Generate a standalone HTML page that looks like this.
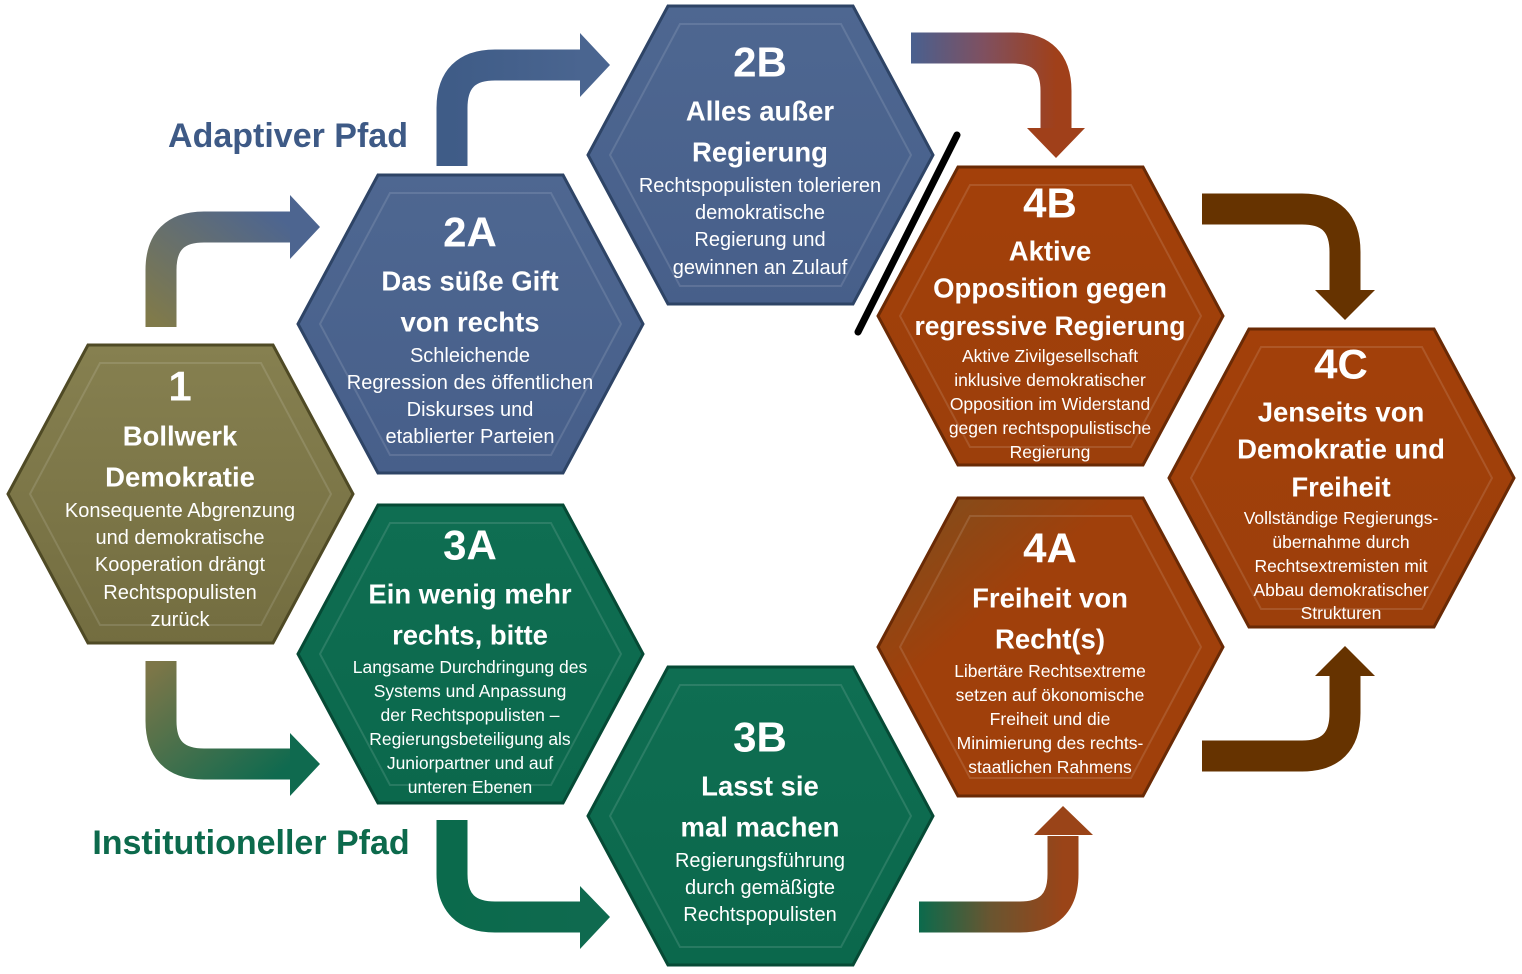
<!DOCTYPE html>
<html><head><meta charset="utf-8"><style>
html,body{margin:0;padding:0;background:#fff;}
svg{display:block;}
text{font-family:"Liberation Sans",sans-serif;fill:#fff;text-anchor:middle;dominant-baseline:central;}
.n{font-size:42px;font-weight:bold;}
.t{font-size:27.5px;font-weight:bold;}
.b{font-size:20px;}
.s{font-size:17.5px;}
</style></head><body>
<svg width="1522" height="974" viewBox="0 0 1522 974" xmlns="http://www.w3.org/2000/svg">
<defs>
<linearGradient id="gOl" x1="0" y1="0" x2="0" y2="1"><stop offset="0" stop-color="#868050"/><stop offset="1" stop-color="#736d40"/></linearGradient>
<linearGradient id="gBl" x1="0" y1="0" x2="0" y2="1"><stop offset="0" stop-color="#4e6791"/><stop offset="1" stop-color="#475f8a"/></linearGradient>
<linearGradient id="gGr" x1="0" y1="0" x2="0" y2="1"><stop offset="0" stop-color="#0f6e52"/><stop offset="1" stop-color="#0b684c"/></linearGradient>
<linearGradient id="gOr" x1="0" y1="0" x2="0" y2="1"><stop offset="0" stop-color="#a3400a"/><stop offset="1" stop-color="#9c3f0b"/></linearGradient>
<linearGradient id="gOrA" x1="0" y1="0" x2="1" y2="1"><stop offset="0" stop-color="#7a5020"/><stop offset="0.35" stop-color="#a0400b"/><stop offset="1" stop-color="#a0400b"/></linearGradient>
<linearGradient id="a1" x1="0" y1="1" x2="1" y2="0"><stop offset="0" stop-color="#807a4a"/><stop offset="1" stop-color="#4d6590"/></linearGradient>
<linearGradient id="a2" x1="0" y1="0" x2="1" y2="0"><stop offset="0" stop-color="#3f5c87"/><stop offset="1" stop-color="#4a6590"/></linearGradient>
<linearGradient id="a3" x1="0" y1="0" x2="1" y2="0"><stop offset="0" stop-color="#49608f"/><stop offset="0.5" stop-color="#7f5060"/><stop offset="1" stop-color="#a0401a"/></linearGradient>
<linearGradient id="a4" x1="0" y1="0" x2="1" y2="1"><stop offset="0" stop-color="#7d7648"/><stop offset="1" stop-color="#0f6a4f"/></linearGradient>
<linearGradient id="a5" x1="0" y1="0" x2="1" y2="0"><stop offset="0" stop-color="#0b6a4c"/><stop offset="1" stop-color="#0f6a4f"/></linearGradient>
<linearGradient id="a6" x1="0" y1="0" x2="1" y2="0"><stop offset="0" stop-color="#0b6a4c"/><stop offset="0.5" stop-color="#6a5530"/><stop offset="1" stop-color="#9a4418"/></linearGradient>
</defs>

<g fill="none" stroke-width="31" stroke-linejoin="round">
<path d="M161 327 V270 Q161 227 204 227 H292" stroke="url(#a1)"/>
<path d="M452 166 V108 Q452 65 495 65 H582" stroke="url(#a2)"/>
<path d="M911 48 H1013 Q1056 48 1056 91 V130" stroke="url(#a3)"/>
<path d="M1202 209 H1302 Q1345 209 1345 252 V292" stroke="#663300"/>
<path d="M1202 756 H1302 Q1345 756 1345 713 V674" stroke="#663300"/>
<path d="M919 917 H1020 Q1063 917 1063 874 V836" stroke="url(#a6)"/>
<path d="M161 661 V721 Q161 764 204 764 H292" stroke="url(#a4)"/>
<path d="M452 820 V874 Q452 917 495 917 H582" stroke="url(#a5)"/>
</g>
<polygon points="290,195 320,227 290,259" fill="#4d6590"/>
<polygon points="580,33 610,65 580,97" fill="#4a6590"/>
<polygon points="1027,128 1085,128 1056,158" fill="#a0401a"/>
<polygon points="1315,290 1375,290 1345,320" fill="#663300"/>
<polygon points="1315,676 1375,676 1345,646" fill="#663300"/>
<polygon points="1034,835 1093,835 1063,806" fill="#9a4418"/>
<polygon points="290,733 320,764 290,796" fill="#0f6a4f"/>
<polygon points="580,886 610,917 580,949" fill="#0f6a4f"/>

<line x1="957" y1="135" x2="858" y2="332" stroke="#000" stroke-width="7" stroke-linecap="round"/>

<g stroke-width="3">
<polygon points="8,494 88,345 273,345 353,494 273,643 88,643" fill="url(#gOl)" stroke="#4f4a25"/>
<polygon points="298,324 378,175 563,175 643,324 563,473 378,473" fill="url(#gBl)" stroke="#2e4466"/>
<polygon points="588,155 668,6 853,6 933,155 853,304 668,304" fill="url(#gBl)" stroke="#2e4466"/>
<polygon points="298,654 378,505 563,505 643,654 563,803 378,803" fill="url(#gGr)" stroke="#064a35"/>
<polygon points="588,816 668,667 853,667 933,816 853,965 668,965" fill="url(#gGr)" stroke="#064a35"/>
<polygon points="878,316 958,167 1143,167 1223,316 1143,465 958,465" fill="url(#gOr)" stroke="#6a2a05"/>
<polygon points="878,647 958,498 1143,498 1223,647 1143,796 958,796" fill="url(#gOrA)" stroke="#6a2a05"/>
<polygon points="1169,478 1249,329 1434,329 1514,478 1434,627 1249,627" fill="url(#gOr)" stroke="#6a2a05"/>
</g>
<g fill="none" stroke="#fff" stroke-opacity="0.12" stroke-width="2">
<polygon points="30,494 100,363 261,363 331,494 261,625 100,625"/>
<polygon points="320,324 390,193 551,193 621,324 551,455 390,455"/>
<polygon points="610,155 680,24 841,24 911,155 841,286 680,286"/>
<polygon points="320,654 390,523 551,523 621,654 551,785 390,785"/>
<polygon points="610,816 680,685 841,685 911,816 841,947 680,947"/>
<polygon points="900,316 970,185 1131,185 1201,316 1131,447 970,447"/>
<polygon points="900,647 970,516 1131,516 1201,647 1131,778 970,778"/>
<polygon points="1191,478 1261,347 1422,347 1492,478 1422,609 1261,609"/>
</g>

<text x="288" y="136" style="font-size:34px;font-weight:bold;fill:#3e5a86">Adaptiver Pfad</text>
<text x="251" y="843" style="font-size:34px;font-weight:bold;fill:#0c6a4c">Institutioneller Pfad</text>

<text class="n" x="180" y="386">1</text>
<text class="t" x="180" y="436">Bollwerk</text>
<text class="t" x="180" y="477">Demokratie</text>
<text class="b" x="180" y="511">Konsequente Abgrenzung</text>
<text class="b" x="180" y="538">und demokratische</text>
<text class="b" x="180" y="565">Kooperation drängt</text>
<text class="b" x="180" y="593">Rechtspopulisten</text>
<text class="b" x="180" y="620">zurück</text>

<text class="n" x="470" y="232">2A</text>
<text class="t" x="470" y="281">Das süße Gift</text>
<text class="t" x="470" y="322">von rechts</text>
<text class="b" x="470" y="356">Schleichende</text>
<text class="b" x="470" y="383">Regression des öffentlichen</text>
<text class="b" x="470" y="410">Diskurses und</text>
<text class="b" x="470" y="437">etablierter Parteien</text>

<text class="n" x="760" y="62">2B</text>
<text class="t" x="760" y="111">Alles außer</text>
<text class="t" x="760" y="152">Regierung</text>
<text class="b" x="760" y="186">Rechtspopulisten tolerieren</text>
<text class="b" x="760" y="213">demokratische</text>
<text class="b" x="760" y="240">Regierung und</text>
<text class="b" x="760" y="268">gewinnen an Zulauf</text>

<text class="n" x="1050" y="203">4B</text>
<text class="t" x="1050" y="251">Aktive</text>
<text class="t" x="1050" y="288">Opposition gegen</text>
<text class="t" x="1050" y="326" style="font-size:26.5px">regressive Regierung</text>
<text class="s" x="1050" y="356">Aktive Zivilgesellschaft</text>
<text class="s" x="1050" y="380">inklusive demokratischer</text>
<text class="s" x="1050" y="404">Opposition im Widerstand</text>
<text class="s" x="1050" y="428">gegen rechtspopulistische</text>
<text class="s" x="1050" y="452">Regierung</text>

<text class="n" x="1341" y="364">4C</text>
<text class="t" x="1341" y="412">Jenseits von</text>
<text class="t" x="1341" y="449">Demokratie und</text>
<text class="t" x="1341" y="487">Freiheit</text>
<text class="s" x="1341" y="518">Vollständige Regierungs-</text>
<text class="s" x="1341" y="542">übernahme durch</text>
<text class="s" x="1341" y="566">Rechtsextremisten mit</text>
<text class="s" x="1341" y="590">Abbau demokratischer</text>
<text class="s" x="1341" y="613">Strukturen</text>

<text class="n" x="470" y="545">3A</text>
<text class="t" x="470" y="594">Ein wenig mehr</text>
<text class="t" x="470" y="635">rechts, bitte</text>
<text class="s" x="470" y="667">Langsame Durchdringung des</text>
<text class="s" x="470" y="691">Systems und Anpassung</text>
<text class="s" x="470" y="715">der Rechtspopulisten –</text>
<text class="s" x="470" y="739">Regierungsbeteiligung als</text>
<text class="s" x="470" y="763">Juniorpartner und auf</text>
<text class="s" x="470" y="787">unteren Ebenen</text>

<text class="n" x="760" y="737">3B</text>
<text class="t" x="760" y="786">Lasst sie</text>
<text class="t" x="760" y="827">mal machen</text>
<text class="b" x="760" y="861">Regierungsführung</text>
<text class="b" x="760" y="888">durch gemäßigte</text>
<text class="b" x="760" y="915">Rechtspopulisten</text>

<text class="n" x="1050" y="548">4A</text>
<text class="t" x="1050" y="598">Freiheit von</text>
<text class="t" x="1050" y="639">Recht(s)</text>
<text class="s" x="1050" y="671">Libertäre Rechtsextreme</text>
<text class="s" x="1050" y="695">setzen auf ökonomische</text>
<text class="s" x="1050" y="719">Freiheit und die</text>
<text class="s" x="1050" y="743">Minimierung des rechts-</text>
<text class="s" x="1050" y="767">staatlichen Rahmens</text>
</svg>
</body></html>
